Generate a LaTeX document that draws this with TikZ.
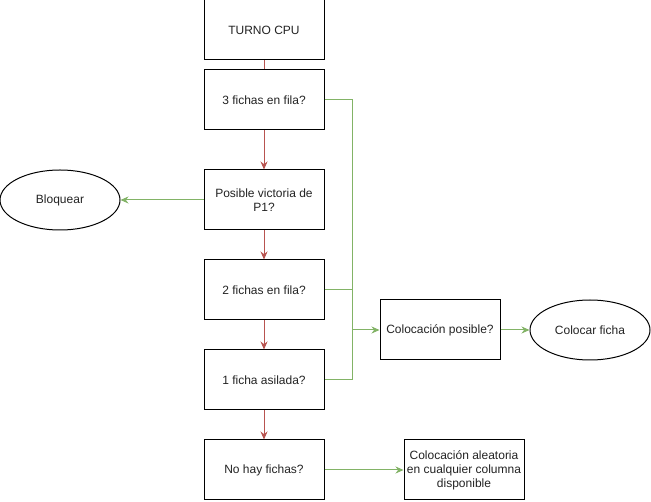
\documentclass[tikz,border=0pt]{standalone}
\usepackage{fontspec}
\setmainfont{Liberation Sans}
\usetikzlibrary{shapes.geometric,arrows.meta}
\definecolor{redline}{HTML}{B85450}
\definecolor{greenline}{HTML}{82B366}
\definecolor{txt}{HTML}{222222}
\tikzset{
  box/.style={draw=black, line width=1pt, minimum width=120pt, minimum height=60pt, inner sep=0pt, align=center, font=\fontsize{12}{14}\selectfont, text=txt},
  oval/.style={ellipse, draw=black, line width=1pt, minimum width=120pt, minimum height=60pt, inner sep=0pt, align=center, font=\fontsize{12}{14}\selectfont, text=txt},
  redarr/.style={draw=redline, line width=1pt, -{Stealth[length=8pt,width=7pt]}},
  grnarr/.style={draw=greenline, line width=1pt, -{Stealth[length=8pt,width=7pt]}},
  grnline/.style={draw=greenline, line width=1pt},
}
\begin{document}
\begin{tikzpicture}[x=1pt,y=-1pt]
\useasboundingbox (0,0) rectangle (651,502);
\node[box] (turno) at (264,30) {TURNO CPU};
\node[box] (tres) at (264,100) {3 fichas en fila?};
\node[box] (vict) at (264,200) {Posible victoria de\\P1?};
\node[oval] (bloq) at (60,200) {Bloquear};
\node[box] (dos) at (264,290) {2 fichas en fila?};
\node[box] (uno) at (264,380) {1 ficha asilada?};
\node[box] (nohay) at (264,470) {No hay fichas?};
\node[box] (colpos) at (440,330) {Colocación posible?};
\node[oval] (colfic) at (590,330) {Colocar ficha};
\node[box] (aleat) at (464,470) {Colocación aleatoria\\en cualquier columna\\disponible};
\coordinate (j1) at (352,100);
\coordinate (j2) at (352,290);
\coordinate (j3) at (352,380);
\coordinate (jm) at (352,330);
\draw[draw=redline, line width=1pt] (turno.south) -- (tres.north);
\draw[redarr] (tres.south) -- (vict.north);
\draw[redarr] (vict.south) -- (dos.north);
\draw[redarr] (dos.south) -- (uno.north);
\draw[redarr] (uno.south) -- (nohay.north);
\draw[grnarr] (vict.west) -- (bloq.east);
\draw[grnline] (tres.east) -- (j1) -- (j3) -- (uno.east);
\draw[grnline] (dos.east) -- (j2);
\draw[grnarr] (jm) -- (colpos.west);
\draw[grnarr] (colpos.east) -- (colfic.west);
\draw[grnarr] (nohay.east) -- (aleat.west);
\end{tikzpicture}
\end{document}
